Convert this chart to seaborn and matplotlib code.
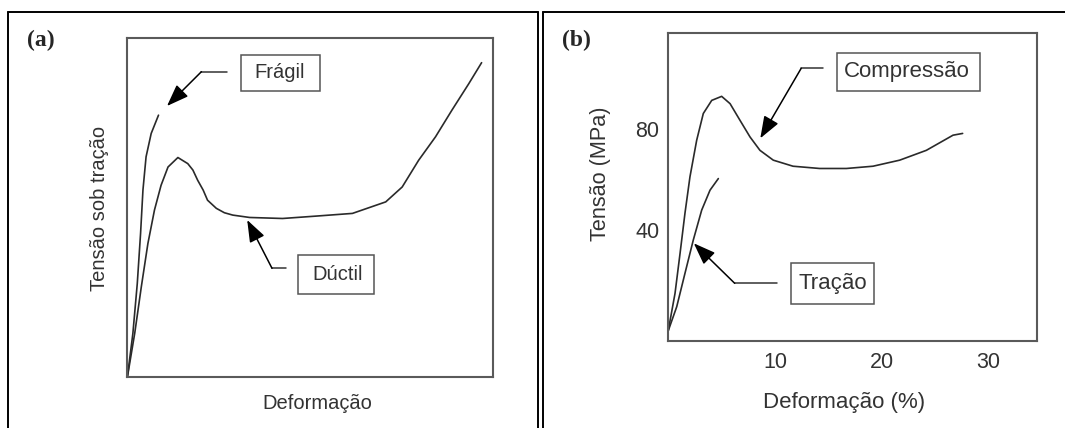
import numpy as np
import pandas as pd
import matplotlib
matplotlib.use("Agg")
import matplotlib.pyplot as plt
from matplotlib.lines import Line2D
from matplotlib.patches import Rectangle, FancyArrowPatch
import seaborn as sns

# ---- Data: panel (a) (arbitrary units, 0-100 of axis) ----
ductil_x = [0, 2.0, 3.8, 5.6, 7.4, 9.2, 11.1, 13.8, 16.5, 17.9, 19.2, 20.7, 21.9, 24.3, 26.5,
            28.8, 33.4, 42.4, 51.5, 61.5, 70.6, 75.1, 79.6, 84.2, 88.7, 93.3, 96.8]
ductil_y = [0, 12.9, 26.6, 39.4, 49.3, 56.6, 62.0, 64.8, 63.0, 61.1, 58.1, 55.2, 52.2, 49.8, 48.5,
            47.8, 47.1, 46.8, 47.5, 48.3, 51.7, 56.1, 64.0, 70.9, 78.8, 86.6, 92.8]
fragil_x = [0, 1.5, 2.7, 3.6, 4.25, 5.1, 6.5, 8.5]
fragil_y = [0, 12.9, 27.6, 42.4, 55.2, 65.0, 71.9, 77.3]

# ---- Data: panel (b) ----
comp_x = [0, 0.64, 1.11, 1.57, 2.04, 2.67, 3.29, 4.08, 5.01, 5.8, 6.73, 7.67, 8.6, 9.85,
          11.7, 14.2, 16.7, 19.2, 21.7, 24.2, 26.7, 27.6]
comp_y = [0, 14.9, 30.7, 46.6, 61.1, 75.6, 86.2, 91.4, 93.0, 90.1, 83.5, 76.9, 71.6, 67.7,
          65.3, 64.4, 64.4, 65.3, 67.7, 71.6, 77.6, 78.3]
trac_x = [0, 0.8, 1.57, 2.35, 3.14, 3.92, 4.7]
trac_y = [0, 9.6, 22.8, 36.0, 47.9, 55.8, 60.4]
b_xticks = [10, 20, 30]
b_yticks = [40, 80]

sns.set_style("white")
plt.rcParams['font.family'] = ['Liberation Sans', 'DejaVu Sans']

W, H = 1065, 428
fig = plt.figure(figsize=(W / 100, H / 100), dpi=100)


def fx(px):
    return px / W


def fy(py):
    return 1 - py / H


def P(px, py):
    return (fx(px), fy(py))


txt_col = '#333333'
line_col = '#2a2a2a'
spine_col = '#5a5a5a'
box_col = '#555555'

# Panel frames
for (xa, xb), (ya, yb) in [((8, 8), (12, H)), ((8, 538), (12, 12)), ((538, 538), (12, H)),
                           ((543, 543), (12, H)), ((543, W), (12, 12))]:
    fig.add_artist(Line2D([fx(xa), fx(xb)], [fy(ya), fy(yb)], color='black', lw=1.4,
                          transform=fig.transFigure))

fig.text(fx(27), fy(40), '(a)', family='Liberation Serif', weight='bold', fontsize=17,
         va='center', ha='left')
fig.text(fx(562), fy(40), '(b)', family='Liberation Serif', weight='bold', fontsize=17,
         va='center', ha='left')

# ---------- Panel (a) ----------
axa = fig.add_axes([fx(127.4), fy(377), (493.3 - 127.4) / W, (377 - 38.3) / H])
da = pd.DataFrame({'x': ductil_x, 'y': ductil_y})
fa = pd.DataFrame({'x': fragil_x, 'y': fragil_y})
sns.lineplot(data=da, x='x', y='y', ax=axa, color=line_col, lw=1.2, sort=False)
sns.lineplot(data=fa, x='x', y='y', ax=axa, color=line_col, lw=1.2, sort=False)
axa.set_xlim(0, 100)
axa.set_ylim(0, 100)
axa.set_xticks([])
axa.set_yticks([])
axa.set_xlabel('Deformação', fontsize=14.5, color=txt_col)
axa.set_ylabel('Tensão sob tração', fontsize=14.5, color=txt_col)
axa.xaxis.set_label_coords(0.5177, -0.0768)
axa.xaxis.label.set_va('center')
axa.yaxis.set_label_coords(-0.0749, 0.499)
axa.yaxis.label.set_va('center')
for s in axa.spines.values():
    s.set_color(spine_col)
    s.set_linewidth(1.5)

# ---------- Panel (b) ----------
axb = fig.add_axes([fx(668.2), fy(341), (1037.3 - 668.2) / W, (341 - 33.3) / H])
dc = pd.DataFrame({'x': comp_x, 'y': comp_y})
dt = pd.DataFrame({'x': trac_x, 'y': trac_y})
sns.lineplot(data=dc, x='x', y='y', ax=axb, color=line_col, lw=1.2, sort=False)
sns.lineplot(data=dt, x='x', y='y', ax=axb, color=line_col, lw=1.2, sort=False)
axb.set_xlim(0, 34.6)
axb.set_ylim(-4, 118)
axb.set_xticks(b_xticks)
axb.set_yticks(b_yticks)
axb.tick_params(axis='y', length=0, labelsize=15.5, colors=txt_col, pad=6.5)
axb.tick_params(axis='x', length=0, labelsize=15.5, colors=txt_col, pad=8)
axb.set_xlabel('Deformação (%)', fontsize=16, color=txt_col)
axb.set_ylabel('Tensão (MPa)', fontsize=15.6, color=txt_col)
axb.xaxis.set_label_coords(0.476, -0.201)
axb.xaxis.label.set_va('center')
axb.yaxis.set_label_coords(-0.183, 0.545)
axb.yaxis.label.set_va('center')
for s in axb.spines.values():
    s.set_color(spine_col)
    s.set_linewidth(1.5)

# ---------- Call-out boxes, labels and arrows (figure pixel positions) ----------
boxes = [
    # (x0, x1, y0, y1, text x, text y, text, fontsize)
    (241.0, 319.6, 55.0, 91.0, 280.0, 72.5, 'Frágil', 14.5),
    (297.9, 373.6, 255.0, 294.0, 338.0, 274.5, 'Dúctil', 14.5),
    (837.1, 979.7, 53.3, 90.7, 907.0, 71.5, 'Compressão', 16),
    (791.0, 874.0, 263.3, 304.0, 833.0, 283.0, 'Tração', 16),
]
for x0, x1, y0, y1, tx, ty, label, fs in boxes:
    fig.add_artist(Rectangle(P(x0, y1), fx(x1) - fx(x0), fy(y0) - fy(y1), fill=True,
                             fc='white', ec=box_col, lw=1.1, transform=fig.transFigure,
                             zorder=3))
    fig.text(fx(tx), fy(ty), label, fontsize=fs, color=txt_col, ha='center', va='center',
             zorder=4)

arrows = [
    # (tip, elbow, horizontal end)
    ((167.0, 106.0), (201.4, 71.7), (227.3, 71.7)),
    ((247.2, 220.0), (272.0, 268.3), (285.8, 268.3)),
    ((760.3, 138.3), (801.2, 68.3), (823.4, 68.3)),
    ((693.8, 243.3), (734.7, 283.3), (777.4, 283.3)),
]
for tip, elbow, end in arrows:
    fig.add_artist(Line2D([fx(elbow[0]), fx(end[0])], [fy(elbow[1]), fy(end[1])],
                          color='#333333', lw=1.1, transform=fig.transFigure, zorder=5))
    fig.add_artist(FancyArrowPatch(posA=P(*elbow), posB=P(*tip),
                                   arrowstyle='-|>,head_length=1.35,head_width=0.5',
                                   mutation_scale=10, color='black', lw=1.1,
                                   shrinkA=0, shrinkB=0, transform=fig.transFigure,
                                   zorder=5))

fig.savefig('out.png', dpi=100)
